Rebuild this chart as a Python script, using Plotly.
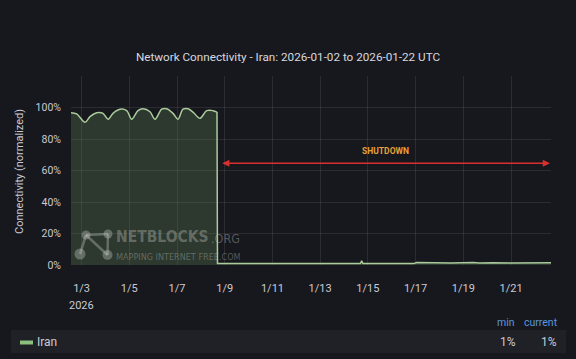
import plotly.graph_objects as go

# ---------------- data ----------------
times = [
    "2026-01-02 13:20", "2026-01-02 19:05", "2026-01-03 03:25", "2026-01-03 08:27",
    "2026-01-03 15:12", "2026-01-03 21:32", "2026-01-04 02:33", "2026-01-04 07:35",
    "2026-01-04 14:37", "2026-01-04 21:22", "2026-01-05 02:24", "2026-01-05 08:44",
    "2026-01-05 13:45", "2026-01-05 20:48", "2026-01-06 01:50", "2026-01-06 08:34",
    "2026-01-06 13:36", "2026-01-06 19:56", "2026-01-07 00:58", "2026-01-07 06:00",
    "2026-01-07 11:01", "2026-01-07 16:03", "2026-01-07 23:05", "2026-01-08 05:50",
    "2026-01-08 12:10", "2026-01-08 16:12",
    "2026-01-08 16:40", "2026-01-10 00:00", "2026-01-12 00:00", "2026-01-14 16:30",
    "2026-01-14 17:45", "2026-01-14 19:00", "2026-01-16 22:00", "2026-01-17 01:00",
    "2026-01-18 12:00", "2026-01-19 10:00", "2026-01-19 16:00", "2026-01-20 06:00",
    "2026-01-21 00:00", "2026-01-22 12:00", "2026-01-22 16:13",
]
connectivity = [
    96.7, 95.9, 90.6, 94.2, 96.7, 96.3, 92.5, 96.3, 98.9, 98.0, 92.5, 98.0, 99.2,
    97.3, 92.5, 98.9, 99.2, 96.3, 92.5, 98.9, 99.2, 97.1, 93.1, 98.0, 98.0, 97.1,
    1.0, 0.9, 0.9, 0.9, 2.6, 0.9, 0.9, 1.6, 1.3, 1.6, 1.2, 1.5, 1.3, 1.5, 1.4,
]
shutdown_index = 26  # first sample after the drop

x_tick_vals = ["2026-01-03", "2026-01-05", "2026-01-07", "2026-01-09", "2026-01-11",
               "2026-01-13", "2026-01-15", "2026-01-17", "2026-01-19", "2026-01-21"]
x_tick_text = ["1/3", "1/5", "1/7", "1/9", "1/11", "1/13", "1/15", "1/17", "1/19", "1/21"]
y_tick_vals = [0, 20, 40, 60, 80, 100, 120]
y_tick_text = ["0%", "20%", "40%", "60%", "80%", "100%", ""]

shutdown_start = "2026-01-08 19:55"
shutdown_end = "2026-01-22 15:10"
shutdown_level = 64.6
shutdown_label_x = "2026-01-15 17:15"
shutdown_label_y = 72.4

legend_name = "Iran"
legend_min = "1%"
legend_current = "1%"

# ---------------- styling ----------------
BG = "#17181d"
GRID = "rgba(255,255,255,0.085)"
TXT = "#c9cad3"
LINE = "#aacb9c"
FILL = "rgba(110,150,100,0.25)"
FONT = "Roboto, Inter, sans-serif"
COND = "Liberation Sans Narrow, DejaVu Sans Condensed, Roboto"

W, H = 576, 359
L, R, T, B = 71, 25, 76, 94
PW, PH = W - L - R, H - T - B


def px(x):
    return (x - L) / PW


def py(y):
    return (H - B - y) / PH


fig = go.Figure()
fig.add_trace(go.Scatter(
    x=times[:shutdown_index], y=connectivity[:shutdown_index],
    mode="lines", line=dict(color=LINE, width=1.5, shape="spline", smoothing=0.9),
    fill="tozeroy", fillcolor=FILL, showlegend=False, hoverinfo="skip"))
fig.add_trace(go.Scatter(
    x=times[shutdown_index - 1:], y=connectivity[shutdown_index - 1:],
    mode="lines", line=dict(color=LINE, width=1.5),
    fill="tozeroy", fillcolor=FILL, showlegend=False, hoverinfo="skip"))

shapes = []
annotations = []


def label(x, y, text, size, color, family=FONT, xanchor="center", xref="paper", yref="paper", **kw):
    annotations.append(dict(x=x, y=y, xref=xref, yref=yref, xanchor=xanchor,
                            yanchor="middle", showarrow=False, text=text,
                            font=dict(family=family, size=size, color=color), **kw))


# shutdown arrow + label
annotations.append(dict(
    x=shutdown_end, y=shutdown_level, ax=shutdown_start, ay=shutdown_level,
    xref="x", yref="y", axref="x", ayref="y", text="", showarrow=True,
    arrowhead=2, startarrowhead=2, arrowside="end+start", arrowsize=0.9,
    startarrowsize=0.9, arrowwidth=1.6, arrowcolor="#d9302f"))
label(shutdown_label_x, shutdown_label_y, "<b>SHUTDOWN</b>", 8.5, "#e6a03a",
      xref="x", yref="y")

# year label
label(x_tick_vals[0], py(305), "2026", 11, TXT, xref="x")

# y-axis title
label(px(19), py(172), "Connectivity (normalized)", 11, TXT, textangle=-90)

# watermark
WM = "rgba(200,205,200,0.36)"
nodes = [(86, 235, 4.5), (108, 234, 4.5), (80, 254, 5.5), (107.5, 255, 5)]
links = [(0, 1), (0, 2), (0, 3), (1, 3)]
for a, b in links:
    shapes.append(dict(type="line", xref="paper", yref="paper",
                       x0=px(nodes[a][0]), y0=py(nodes[a][1]),
                       x1=px(nodes[b][0]), y1=py(nodes[b][1]),
                       line=dict(color=WM, width=2.5)))
for cx, cy, r in nodes:
    shapes.append(dict(type="circle", xref="paper", yref="paper",
                       x0=px(cx - r), x1=px(cx + r), y0=py(cy + r), y1=py(cy - r),
                       fillcolor=WM, line=dict(width=0)))
label(px(114), py(237), "<b>NETBLOCKS</b>", 15.5, WM, family=COND, xanchor="left")
label(px(209), py(238.5), ".ORG", 12.5, WM, family=COND, xanchor="left")
label(px(114), py(257), "MAPPING INTERNET FREE.COM", 9, WM, family=COND, xanchor="left")

# legend table
shapes.append(dict(type="rect", xref="paper", yref="paper",
                   x0=px(11), x1=px(566), y0=py(353), y1=py(330),
                   fillcolor="#202127", line=dict(width=0), layer="below"))
shapes.append(dict(type="rect", xref="paper", yref="paper",
                   x0=px(20), x1=px(33), y0=py(344.5), y1=py(340.5),
                   fillcolor="#8dbf7c", line=dict(width=0)))
label(px(35), py(342), legend_name, 12, TXT, xanchor="left")
for cxp, txt in [(506, "min"), (541, "current")]:
    label(px(cxp), py(322), txt, 10.5, "#5b95dc")
for cxp, txt in [(508, legend_min), (549, legend_current)]:
    label(px(cxp), py(342), txt, 12, TXT)

fig.update_layout(
    width=W, height=H, autosize=False,
    margin=dict(l=L, r=R, t=T, b=B, pad=0),
    paper_bgcolor=BG, plot_bgcolor=BG,
    font=dict(family=FONT, color=TXT, size=11),
    title=dict(text="Network Connectivity - Iran: 2026-01-02 to 2026-01-22 UTC",
               x=0.5, xref="container", xanchor="center",
               y=1 - 57 / H, yref="container", yanchor="middle",
               font=dict(family=FONT, size=11.7, color="#d8d9de")),
    shapes=shapes, annotations=annotations, showlegend=False,
    xaxis=dict(range=[times[0], times[-1]], tickvals=x_tick_vals, ticktext=x_tick_text,
               showgrid=True, gridcolor=GRID, gridwidth=1, zeroline=False,
               showline=False, ticks="", ticklabelstandoff=15,
               tickfont=dict(family=FONT, size=11, color=TXT), fixedrange=True),
    yaxis=dict(range=[0, 120], tickvals=y_tick_vals, ticktext=y_tick_text,
               showgrid=True, gridcolor=GRID, gridwidth=1, zeroline=False,
               showline=False, ticks="", ticklabelstandoff=9,
               tickfont=dict(family=FONT, size=10.5, color=TXT), fixedrange=True),
)

fig.write_html("out.html")
